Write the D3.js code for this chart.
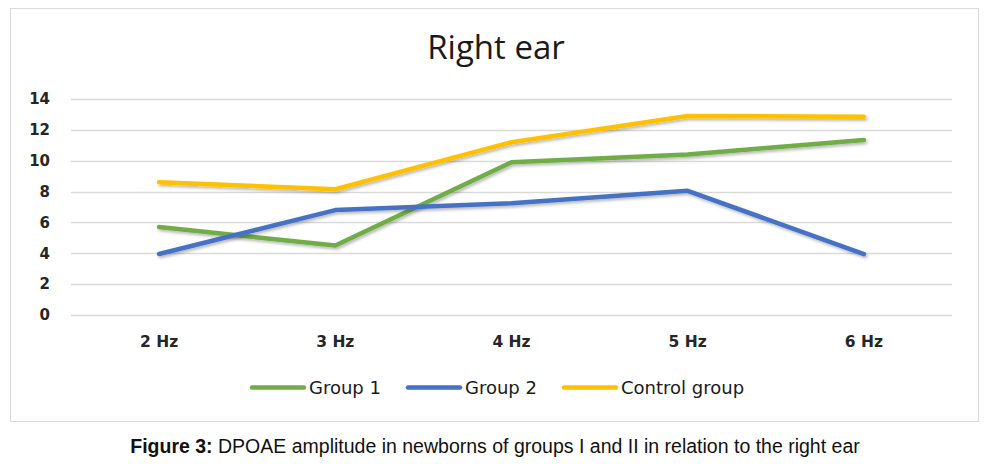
<!DOCTYPE html>
<html>
<head>
<meta charset="utf-8">
<script src="https://cdn.jsdelivr.net/npm/d3@7"></script>
<style>
  body { margin: 0; background: #fff; }
  text { font-family: "DejaVu Sans", sans-serif; }
</style>
</head>
<body>
<div id="chart"></div>
<script>
// Chart data
var categories = ["2 Hz", "3 Hz", "4 Hz", "5 Hz", "6 Hz"];
var group1 = [5.7, 4.5, 9.9, 10.4, 11.35];
var group2 = [3.95, 6.8, 7.25, 8.05, 3.95];
var control = [8.6, 8.15, 11.2, 12.9, 12.85];
var yTicks = [0, 2, 4, 6, 8, 10, 12, 14];

var seriesNames = ["Group 1", "Group 2", "Control group"];
var seriesColors = ["#70ad47", "#4472c4", "#ffc000"];
var seriesValues = [group1, group2, control];

var svgWidth = 990;
var svgHeight = 464;

var margin = { top: 99, right: 38, bottom: 149, left: 71 };
var width = svgWidth - margin.left - margin.right;
var height = svgHeight - margin.top - margin.bottom;

var svg = d3.select("#chart")
  .append("svg")
  .attr("width", svgWidth)
  .attr("height", svgHeight);

// soft drop shadow under the lines
var defs = svg.append("defs");
var filter = defs.append("filter")
  .attr("id", "shadow")
  .attr("x", "-10%").attr("y", "-30%")
  .attr("width", "120%").attr("height", "160%");
filter.append("feDropShadow")
  .attr("dx", 1.5).attr("dy", 2)
  .attr("stdDeviation", 1.5)
  .attr("flood-color", "#000")
  .attr("flood-opacity", 0.28);

// chart frame
svg.append("rect")
  .attr("x", 10.5).attr("y", 8.5)
  .attr("width", 968).attr("height", 413)
  .attr("fill", "#fff")
  .attr("stroke", "#d9d9d9")
  .attr("stroke-width", 1);

var chartGroup = svg.append("g")
  .attr("transform", `translate(${margin.left}, ${margin.top})`);

var xScale = d3.scaleBand()
  .domain(categories)
  .range([0, width]);

var yScale = d3.scaleLinear()
  .domain([0, 14])
  .range([height, 0]);

// gridlines
chartGroup.append("g")
  .selectAll("line")
  .data(yTicks)
  .enter()
  .append("line")
  .attr("x1", 0)
  .attr("x2", width)
  .attr("y1", d => Math.round(yScale(d)) + 0.5)
  .attr("y2", d => Math.round(yScale(d)) + 0.5)
  .attr("stroke", "#d9d9d9")
  .attr("stroke-width", 1.3);

// y axis labels
var leftAxis = d3.axisLeft(yScale).tickValues(yTicks).tickSize(0).tickPadding(21);
var yAxis = chartGroup.append("g").call(leftAxis);
yAxis.select(".domain").remove();
yAxis.selectAll("text")
  .style("font-family", "'DejaVu Sans', sans-serif")
  .style("font-size", "15px")
  .style("font-weight", "bold")
  .style("fill", "#262626");

// x axis labels
var bottomAxis = d3.axisBottom(xScale).tickSize(0).tickPadding(21);
var xAxis = chartGroup.append("g")
  .attr("transform", `translate(0, ${height})`)
  .call(bottomAxis);
xAxis.select(".domain").remove();
xAxis.selectAll("text")
  .style("font-family", "'DejaVu Sans', sans-serif")
  .style("font-size", "15.5px")
  .style("font-weight", "bold")
  .style("fill", "#262626");

// lines
var line = d3.line()
  .x((d, i) => xScale(categories[i]) + xScale.bandwidth() / 2)
  .y(d => yScale(d));

seriesValues.forEach(function(vals, i) {
  chartGroup.append("path")
    .datum(vals)
    .attr("d", line)
    .attr("fill", "none")
    .attr("stroke", seriesColors[i])
    .attr("stroke-width", 4.5)
    .attr("stroke-linecap", "round")
    .attr("stroke-linejoin", "round")
    .attr("filter", "url(#shadow)");
});

// title
svg.append("text")
  .attr("x", 496)
  .attr("y", 59)
  .attr("text-anchor", "middle")
  .style("font-family", "'Open Sans', sans-serif")
  .style("font-size", "33px")
  .style("fill", "#1a1a1a")
  .text("Right ear");

// legend
var legendX = [252, 408, 564];
var legend = svg.append("g");
seriesNames.forEach(function(name, i) {
  legend.append("line")
    .attr("x1", legendX[i])
    .attr("x2", legendX[i] + 52)
    .attr("y1", 387.5)
    .attr("y2", 387.5)
    .attr("stroke", seriesColors[i])
    .attr("stroke-width", 4.5)
    .attr("stroke-linecap", "round");
  legend.append("text")
    .attr("x", legendX[i] + 57)
    .attr("y", 393.5)
    .style("font-size", "18px")
    .style("fill", "#1a1a1a")
    .text(name);
});

// caption
var caption = svg.append("text")
  .attr("x", 495)
  .attr("y", 453)
  .attr("text-anchor", "middle")
  .style("font-family", "'Liberation Sans', Arial, sans-serif")
  .style("font-size", "19.5px")
  .style("fill", "#111");
caption.append("tspan").style("font-weight", "bold").text("Figure 3:");
caption.append("tspan").text(" DPOAE amplitude in newborns of groups I and II in relation to the right ear");
</script>
</body>
</html>
